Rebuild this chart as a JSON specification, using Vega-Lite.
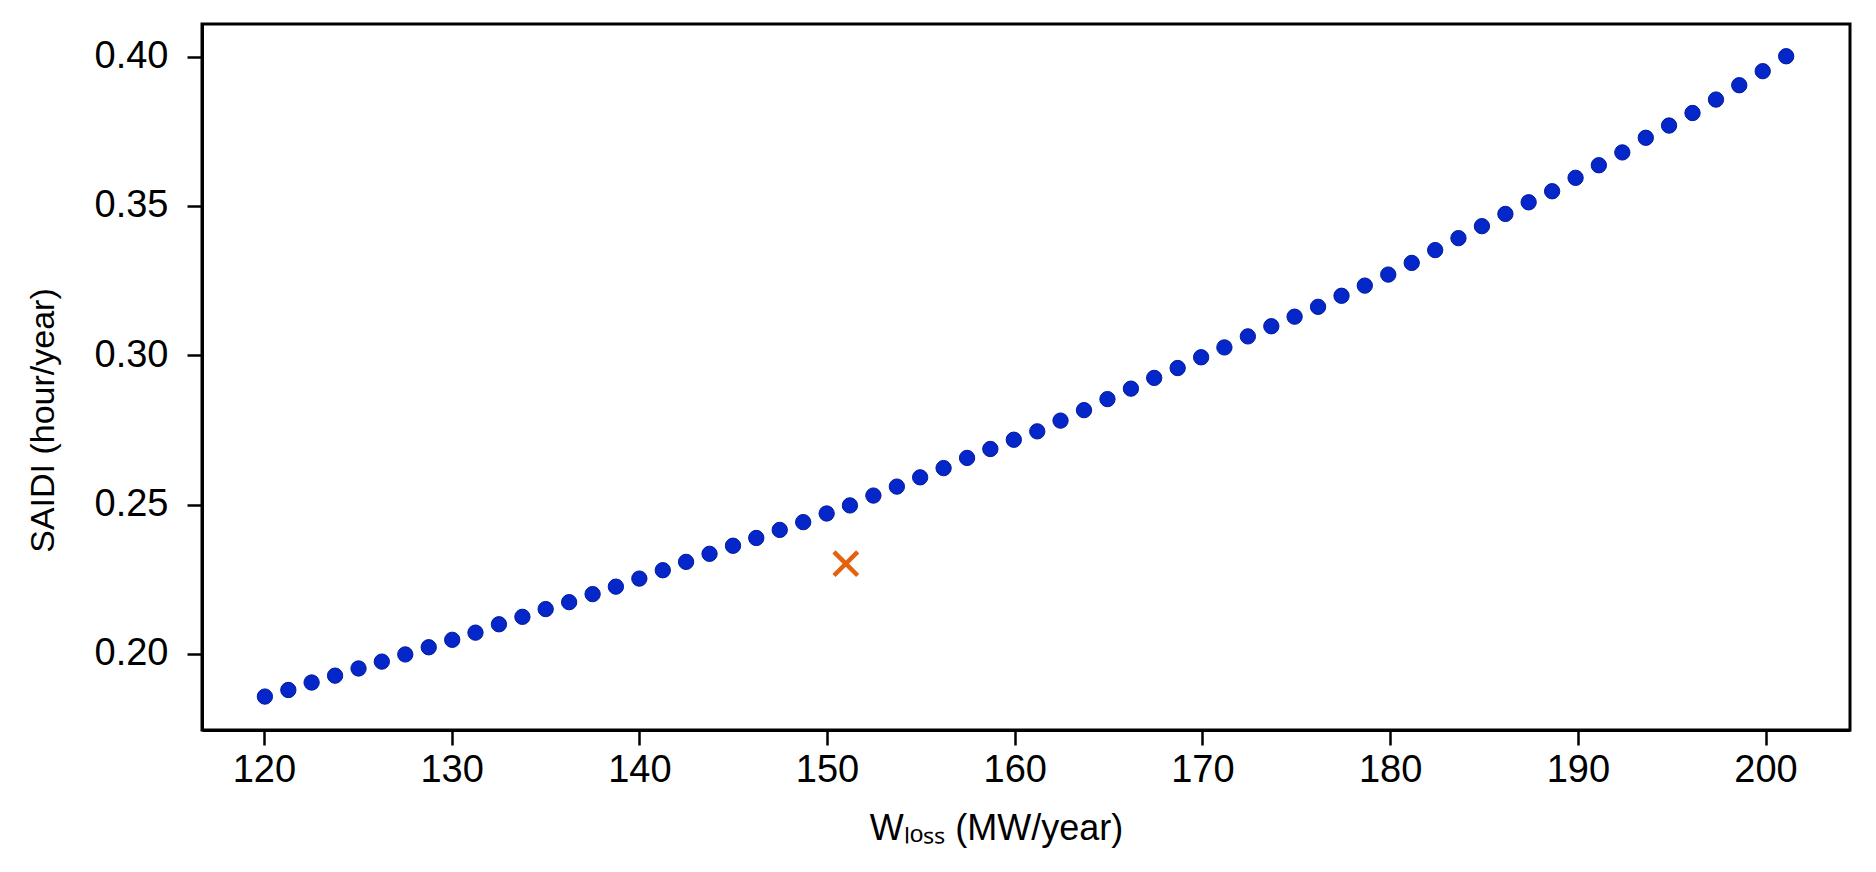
{
  "$schema": "https://vega.github.io/schema/vega-lite/v6.json",
  "width": 1648,
  "height": 706,
  "autosize": {"type": "none"},
  "padding": {"left": 202, "top": 24, "right": 26, "bottom": 142},
  "background": "white",
  "config": {
    "font": "Liberation Sans",
    "view": {"stroke": "black", "strokeWidth": 3},
    "axis": {
      "grid": false,
      "domainColor": "black",
      "domainWidth": 3,
      "tickColor": "black",
      "tickWidth": 2.5,
      "tickSize": 15,
      "labelColor": "black",
      "labelFontSize": 38,
      "titleColor": "black",
      "titleFontWeight": "normal"
    }
  },
  "datasets": {
    "curve": [
      {"w_loss": 120.05, "saidi": 0.1857},
      {"w_loss": 121.30, "saidi": 0.1879},
      {"w_loss": 122.54, "saidi": 0.1904},
      {"w_loss": 123.79, "saidi": 0.1927},
      {"w_loss": 125.04, "saidi": 0.1951},
      {"w_loss": 126.28, "saidi": 0.1974},
      {"w_loss": 127.53, "saidi": 0.1998},
      {"w_loss": 128.78, "saidi": 0.2022},
      {"w_loss": 130.03, "saidi": 0.2047},
      {"w_loss": 131.27, "saidi": 0.2071},
      {"w_loss": 132.52, "saidi": 0.2099},
      {"w_loss": 133.77, "saidi": 0.2124},
      {"w_loss": 135.01, "saidi": 0.2150},
      {"w_loss": 136.26, "saidi": 0.2173},
      {"w_loss": 137.51, "saidi": 0.2200},
      {"w_loss": 138.75, "saidi": 0.2225},
      {"w_loss": 140.00, "saidi": 0.2252},
      {"w_loss": 141.25, "saidi": 0.2280},
      {"w_loss": 142.49, "saidi": 0.2308},
      {"w_loss": 143.74, "saidi": 0.2335},
      {"w_loss": 144.99, "saidi": 0.2362},
      {"w_loss": 146.23, "saidi": 0.2388},
      {"w_loss": 147.48, "saidi": 0.2415},
      {"w_loss": 148.73, "saidi": 0.2441},
      {"w_loss": 149.98, "saidi": 0.2470},
      {"w_loss": 151.22, "saidi": 0.2497},
      {"w_loss": 152.47, "saidi": 0.2530},
      {"w_loss": 153.72, "saidi": 0.2560},
      {"w_loss": 154.96, "saidi": 0.2591},
      {"w_loss": 156.21, "saidi": 0.2622},
      {"w_loss": 157.46, "saidi": 0.2656},
      {"w_loss": 158.70, "saidi": 0.2686},
      {"w_loss": 159.95, "saidi": 0.2717},
      {"w_loss": 161.20, "saidi": 0.2745},
      {"w_loss": 162.44, "saidi": 0.2781},
      {"w_loss": 163.69, "saidi": 0.2816},
      {"w_loss": 164.94, "saidi": 0.2853},
      {"w_loss": 166.19, "saidi": 0.2888},
      {"w_loss": 167.43, "saidi": 0.2924},
      {"w_loss": 168.68, "saidi": 0.2957},
      {"w_loss": 169.93, "saidi": 0.2993},
      {"w_loss": 171.17, "saidi": 0.3026},
      {"w_loss": 172.42, "saidi": 0.3063},
      {"w_loss": 173.67, "saidi": 0.3097},
      {"w_loss": 174.91, "saidi": 0.3129},
      {"w_loss": 176.16, "saidi": 0.3162},
      {"w_loss": 177.41, "saidi": 0.3199},
      {"w_loss": 178.65, "saidi": 0.3233},
      {"w_loss": 179.90, "saidi": 0.3270},
      {"w_loss": 181.15, "saidi": 0.3309},
      {"w_loss": 182.40, "saidi": 0.3352},
      {"w_loss": 183.64, "saidi": 0.3392},
      {"w_loss": 184.89, "saidi": 0.3432},
      {"w_loss": 186.14, "saidi": 0.3473},
      {"w_loss": 187.38, "saidi": 0.3512},
      {"w_loss": 188.63, "saidi": 0.3549},
      {"w_loss": 189.88, "saidi": 0.3594},
      {"w_loss": 191.12, "saidi": 0.3636},
      {"w_loss": 192.37, "saidi": 0.3679},
      {"w_loss": 193.62, "saidi": 0.3728},
      {"w_loss": 194.86, "saidi": 0.3769},
      {"w_loss": 196.11, "saidi": 0.3811},
      {"w_loss": 197.36, "saidi": 0.3856},
      {"w_loss": 198.60, "saidi": 0.3904},
      {"w_loss": 199.85, "saidi": 0.3951},
      {"w_loss": 201.10, "saidi": 0.4001}
    ],
    "marked": [
      {"w_loss": 151.0, "saidi": 0.2302}
    ]
  },
  "encoding": {
    "x": {
      "field": "w_loss",
      "type": "quantitative",
      "scale": {"domain": [116.7, 204.5], "nice": false, "zero": false},
      "axis": {
        "values": [120, 130, 140, 150, 160, 170, 180, 190, 200],
        "labelPadding": 6,
        "title": "Wₗₒₛₛ (MW/year)",
        "titleFontSize": 36,
        "titlePadding": 22,
        "titleX": 794
      }
    },
    "y": {
      "field": "saidi",
      "type": "quantitative",
      "scale": {"domain": [0.1745, 0.4109], "nice": false, "zero": false},
      "axis": {
        "values": [0.20, 0.25, 0.30, 0.35, 0.40],
        "format": ".2f",
        "labelPadding": 19,
        "title": "SAIDI (hour/year)",
        "titleFontSize": 34,
        "titlePadding": 34,
        "titleY": 396
      }
    }
  },
  "layer": [
    {
      "data": {"name": "curve"},
      "mark": {
        "type": "point",
        "shape": "circle",
        "filled": true,
        "size": 235,
        "fill": "#0527c9",
        "stroke": "#001a9e",
        "strokeWidth": 1,
        "opacity": 1
      }
    },
    {
      "data": {"name": "marked"},
      "mark": {
        "type": "point",
        "shape": "M-1,-1L1,1M-1,1L1,-1",
        "filled": false,
        "size": 560,
        "stroke": "#e4620c",
        "strokeWidth": 4.5,
        "opacity": 1
      }
    }
  ]
}
